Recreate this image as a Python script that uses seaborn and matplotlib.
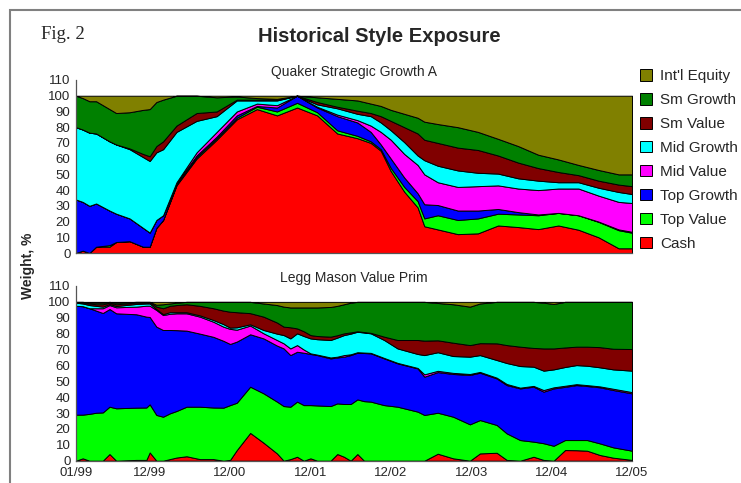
"""
Historical style exposure of two funds, stacked area panels.
"""

import matplotlib

matplotlib.use("Agg")
import matplotlib.pyplot as plt
import seaborn as sns
from matplotlib.patches import Patch, Rectangle

STYLES = ["Cash", "Top Value", "Top Growth", "Mid Value",
          "Mid Growth", "Sm Value", "Sm Growth", "Int'l Equity"]
STYLE_COLORS = ["#ff0000", "#00ff00", "#0000ff", "#ff00ff",
                "#00ffff", "#800000", "#008000", "#808000"]

TICK_MONTHS = [0, 11, 23, 35, 47, 59, 71, 83]
TICK_LABELS = ["01/99", "12/99", "12/00", "12/01", "12/02", "12/03", "12/04", "12/05"]

# Quaker Strategic Growth A  (months since 01/99, weights in %)
Q_MONTHS = [0, 1, 2, 3, 5, 6, 8, 10, 11, 12, 13, 15, 18, 21, 24, 27, 30, 33, 36, 39,
            42, 44, 45.5, 47, 49, 51, 52, 54, 57, 60, 63, 66, 69, 72, 75, 78, 81, 83]
Q_CASH = [0, 1.5, 0, 4, 4, 7, 7.5, 4, 4, 16, 21, 43, 60, 72, 85, 91.5, 87.5, 92.5, 87.5, 76,
          73, 70, 65, 52, 39, 29, 17, 15, 12, 12.5, 17.5, 16.5, 15.2, 17.5, 14.8, 10, 3, 3]
Q_TOP_VALUE = [0, 0, 0, 0, 1, 0, 0, 0, 0, 0, 0, 0.5, 1, 1, 1, 1.5, 2.5, 3, 2, 2,
               1.5, 1, 1, 2, 3, 4, 5, 9, 9, 9.5, 7.5, 8, 8.8, 8, 9.2, 9.8, 11.5, 9.9]
Q_TOP_GROWTH = [34, 31, 30, 27.5, 22, 18, 14.5, 12, 9, 5, 3, 1, 1, 1, 1.5, 0.5, 2.5, 4.5, 3, 9,
                8.5, 6, 3, 6, 6, 5, 9, 6.5, 6, 5, 3, 1.5, 0.5, 0, 0, 0.2, 0.5, 0.6]
Q_MID_VALUE = [0, 0, 0, 0, 0, 0, 0, 0, 0, 0, 0, 0.5, 2, 3, 2.5, 1.5, 1.5, 0, 0.5, 1,
               1.5, 4, 8, 12, 15, 18, 19, 14.5, 15, 15.5, 15, 15, 15.5, 15.5, 17, 16.5, 17.5, 18.3]
Q_MID_GROWTH = [46, 46, 46.5, 44.5, 44, 44, 44, 45, 45.5, 43, 42, 32, 20, 10, 7, 2, 3, 0, 1.5, 4,
                4, 6, 6, 6, 7.5, 6, 9, 10.5, 10.5, 8.5, 7.5, 6.5, 6, 4, 4, 5, 6.3, 5.7]
Q_SM_VALUE = [0, 0, 0, 0, 0, 0, 0.5, 2, 3, 4, 5, 4, 5, 3, 0.5, 0.5, 0.5, 0, 1.5, 1,
              2, 2, 4, 6, 9.5, 14, 13, 14.5, 14.5, 14.5, 11.5, 10, 8, 6.5, 4.5, 4.5, 4.7, 5]
Q_SM_GROWTH = [20, 20, 20, 20.5, 20.5, 20, 23, 28, 30, 28, 26.5, 19, 11, 9, 2, 1, 0.5, 0, 3, 5,
               6.5, 6, 6.5, 7, 8.5, 10, 11.5, 12, 13, 11.5, 10.6, 10.5, 8.5, 8, 6.5, 6.8, 6.5, 7.5]
Q_INTL = [0, 1.5, 3.5, 3.5, 8.5, 11, 10.5, 9, 8.5, 4, 2.5, 0, 0, 1, 0.5, 1.5, 2, 0, 1, 2,
          3, 5, 6.5, 9, 11.5, 14, 16.5, 18, 20, 23, 27.4, 32, 37.5, 40.5, 44, 47.2, 50, 50]

# Legg Mason Value Prim
L_MONTHS = [0, 1, 2, 3, 4, 5, 6, 9, 10.5, 11, 12, 13, 14, 15, 16.5, 18.5, 20.5, 22, 23, 24,
            26, 28, 30, 31, 32, 33, 34, 35, 36, 38, 39, 40, 41, 42, 43, 44, 46, 48, 51, 52,
            54, 56.3, 58.8, 60.3, 62.8, 64.3, 66.3, 68.3, 69.8, 71.3, 73, 74.7, 76.3, 78.2, 80.2, 83]
L_CASH = [0, 1.5, 0, 0, 0, 4.2, 0, 0.5, 0.5, 5.2, 0, 0, 1, 2, 2.8, 1, 1, 0, 0.5, 6.7,
          17.5, 11.3, 4.6, 0, 1, 2.5, 0, 1.5, 0, 0, 4.2, 2.5, 0, 4.2, 0, 0, 0, 0, 0, 0,
          4.4, 1.5, 0, 4.6, 5, 0.5, 0, 2.5, 0.5, 0, 6.7, 6.6, 6.3, 3.6, 1.9, 0.5]
L_TOP_VALUE = [29, 27.5, 29.5, 30.2, 30.4, 29.8, 33, 32.9, 33, 30.3, 28.8, 27.7, 28.8, 29.3, 31.2,
               33, 32.5, 33.4, 34.5, 29.8, 29.1, 31.1, 32.6, 34.4, 33, 34.7, 35, 33.5, 34.8, 34.4,
               31.9, 33.2, 35.7, 34.4, 37.5, 37.2, 35, 34, 30.9, 28.8, 25.8, 26.2, 22.9, 21, 17.5,
               16.7, 13, 9.5, 10.5, 9.4, 6.3, 6.4, 6.7, 7.3, 6.5, 5.8]
L_TOP_GROWTH = [68.5, 68.3, 66.5, 64.3, 62.6, 61.5, 59.8, 58.8, 57.2, 55, 55.6, 54.6, 52.5, 50.9,
                47.9, 46, 44.5, 42.1, 38.5, 38.5, 33, 34.6, 35.3, 36.3, 32.5, 31.4, 33, 32.2, 31.7,
                30, 28.9, 29.8, 30.8, 29.4, 30.3, 30.4, 29.4, 27.3, 27.2, 24.1, 25.6, 26.9, 31.1,
                29.8, 29.3, 30.4, 32.5, 34.6, 32.5, 36.1, 33.5, 34.6, 34, 35.3, 36.1, 36.1]
L_MID_VALUE = [0, 0, 0, 1.5, 3, 2.5, 3.8, 4.8, 6.9, 7.1, 10.5, 9.4, 10.2, 10.6, 10.9, 10.7, 9.5,
               8.9, 9.5, 7.5, 5.5, 3.2, 3.5, 3.2, 4.2, 4.2, 2, 0.4, 0.3, 0.6, 0.5, 1, 0.5, 0.3,
               0.3, 0.3, 0.3, 0.3, 0.3, 1.5, 0.8, 0.7, 0.6, 0.5, 0.5, 0.7, 0.5, 0.5, 1, 0.7,
               0.7, 0.6, 0.6, 0.6, 0.8, 0.8]
L_MID_GROWTH = [2, 1.7, 2, 1.5, 1, 0.7, 0.8, 1.7, 1.4, 1.4, 0.6, 0.6, 1, 0.7, 0.7, 0.8, 1.1, 1.6,
                0.8, 1.5, 0.8, 2.1, 4, 5.2, 6.3, 7.4, 8.5, 9.4, 9.7, 11, 12, 12.6, 13, 12.9, 12.6,
                12.3, 11.3, 9.1, 8.8, 12.1, 11.7, 10.6, 10.9, 10.6, 11.1, 13.2, 13.6, 12.1, 12.2,
                11.3, 11.8, 12, 12.2, 12, 12.2, 13.5]
L_SM_VALUE = [0, 0.5, 1, 1, 1.5, 0.8, 1.1, 0.8, 0.5, 0.8, 1.5, 3.7, 4, 4.5, 5, 6, 7.4, 8.5, 10,
              9.5, 7, 8.4, 7, 5.3, 7, 3.1, 3, 2.1, 2, 2.1, 1.5, 1.1, 0.8, 0.3, 0.3, 0.3, 2.1,
              5.3, 8.8, 9.1, 7.5, 8.4, 7.3, 7.5, 10.5, 11.3, 12.2, 11.8, 14, 13.2, 12.3, 11.6,
              12, 12.7, 13, 13.6]
L_SM_GROWTH = [0.5, 0.5, 0.5, 1, 1, 0.5, 1, 0.5, 0.5, 0.2, 1.2, 2.5, 1.5, 1.5, 1.5, 2.5, 4, 5.5,
               6.2, 6.5, 7.1, 8.3, 11, 12.6, 12.5, 13.2, 15, 17.4, 18, 18.7, 18.5, 18.3, 18.7,
               18.5, 19, 19.5, 21.9, 24, 24, 24.4, 23.5, 24.2, 24.2, 25, 26.1, 27.2, 28.2, 29,
               28.8, 28, 28.7, 28.2, 28.2, 28.5, 29.5, 29.7]
L_INTL = [0, 0, 0.5, 0.5, 0.5, 0, 0.5, 0, 0, 0, 1.8, 1.5, 1, 0.5, 0, 0, 0, 0, 0, 0,
          0, 1, 2, 3, 3.5, 3.5, 3.5, 3.5, 3.5, 3.2, 2.5, 1.5, 0.5, 0, 0, 0, 0, 0, 0, 0,
          0.7, 1.5, 3, 1, 0, 0, 0, 0, 0.5, 1.3, 0, 0, 0, 0, 0, 0]

W, H = 741, 483


def draw_panel(ax, months, layers, title, show_x):
    ax.stackplot(months, layers, colors=STYLE_COLORS, edgecolor="black", linewidth=0.7)
    ax.set_xlim(0, 83)
    ax.set_ylim(0, 110)
    ax.set_yticks(range(0, 111, 10))
    ax.set_title(title, fontsize=10, pad=3)
    sns.despine(ax=ax)
    for side in ("left", "bottom"):
        ax.spines[side].set_color("#555555")
        ax.spines[side].set_linewidth(0.9)
    ax.tick_params(axis="y", length=3, width=0.8, color="#555555", pad=1, labelsize=9.5)
    if show_x:
        ax.set_xticks(TICK_MONTHS)
        ax.set_xticklabels(TICK_LABELS)
        ax.tick_params(axis="x", length=3, width=0.8, color="#555555", pad=1.8, labelsize=9.5)
    else:
        ax.set_xticks([])


def main():
    sns.set_style("white")
    plt.rcParams["font.family"] = ["Liberation Sans", "DejaVu Sans"]

    fig = plt.figure(figsize=(W / 100, H / 100), dpi=100)
    ax_top = fig.add_axes([76 / W, 1 - 253 / H, 556 / W, 173 / H])
    ax_bot = fig.add_axes([76 / W, 1 - 460.7 / H, 556 / W, 174.7 / H])

    q_layers = [Q_CASH, Q_TOP_VALUE, Q_TOP_GROWTH, Q_MID_VALUE,
                Q_MID_GROWTH, Q_SM_VALUE, Q_SM_GROWTH, Q_INTL]
    l_layers = [L_CASH, L_TOP_VALUE, L_TOP_GROWTH, L_MID_VALUE,
                L_MID_GROWTH, L_SM_VALUE, L_SM_GROWTH, L_INTL]
    draw_panel(ax_top, Q_MONTHS, q_layers, "Quaker Strategic Growth A", False)
    draw_panel(ax_bot, L_MONTHS, l_layers, "Legg Mason Value Prim", True)

    handles = [Patch(facecolor=c, edgecolor="black", linewidth=0.7, label=s)
               for s, c in zip(STYLES, STYLE_COLORS)][::-1]
    fig.legend(handles=handles, loc="upper left", bbox_to_anchor=(640 / W, 1 - 69 / H),
               frameon=False, fontsize=11, handlelength=0.8, handleheight=0.8,
               handletextpad=0.5, labelspacing=0.64, borderpad=0, borderaxespad=0)

    fig.text(379.5 / W, 1 - 37 / H, "Historical Style Exposure", ha="center", va="center",
             fontsize=14.5, fontweight="bold")
    fig.text(41 / W, 1 - 39 / H, "Fig. 2", ha="left", va="baseline",
             fontsize=13.5, family=["Liberation Serif", "DejaVu Serif"])
    fig.text(28 / W, 1 - 266 / H, "Weight, %", rotation=90, ha="center", va="center",
             fontsize=10, fontweight="bold")

    frame = Rectangle((10 / W, -0.2), 1.2, 1.2 - 10 / H, transform=fig.transFigure,
                      fill=False, edgecolor="#808080", linewidth=1.5)
    fig.patches.append(frame)

    fig.savefig("out.png", dpi=100)
    plt.close(fig)


if __name__ == "__main__":
    main()
